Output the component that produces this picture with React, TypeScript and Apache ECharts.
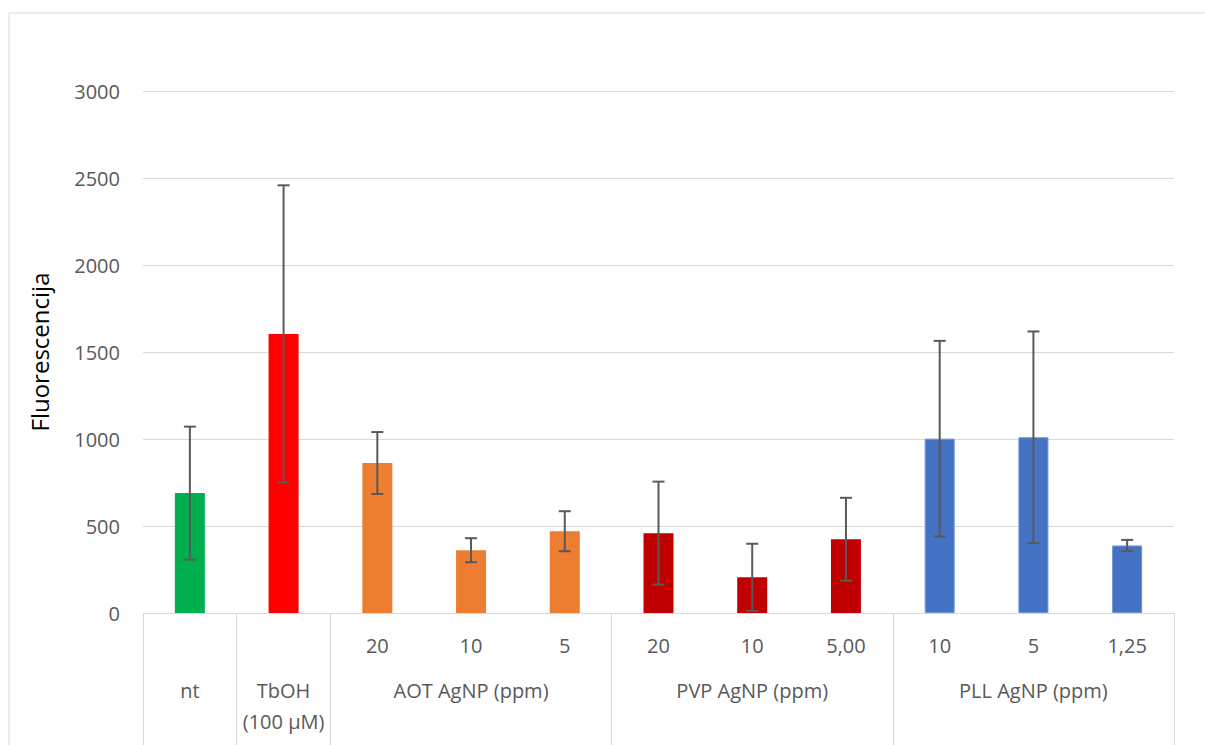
import React, { useEffect, useRef } from "react";
import * as echarts from "echarts";

const tickLabels = ["", "", "20", "10", "5", "20", "10", "5,00", "10", "5", "1,25"];
const groupLabels = ["nt", "TbOH\n(100 µM)", "", "AOT AgNP (ppm)", "", "", "PVP AgNP (ppm)", "", "", "PLL AgNP (ppm)", ""];
const values = [689, 1604, 862, 361, 470, 459, 205, 424, 1002, 1010, 388];
const errors = [382, 854, 178, 69, 115, 296, 193, 238, 562, 608, 32];
const barColors = ["#00B050", "#FF0000", "#ED7D31", "#ED7D31", "#ED7D31", "#C00000", "#C00000", "#C00000", "#4472C4", "#4472C4", "#4472C4"];
const groupBoundaries = [0, 1, 2, 5, 8, 11];
const yTicks = { min: 0, max: 3000, interval: 500 };

const FONT = "Open Sans";

export default function App() {
  const ref = useRef<HTMLDivElement>(null);
  useEffect(() => {
    const chart = echarts.init(ref.current!, null, { renderer: "svg" });
    const cats = tickLabels.map((_, i) => String(i));
    chart.setOption({
      animation: false,
      backgroundColor: "#ffffff",
      graphic: [
        {
          type: "rect",
          shape: { x: 9, y: 13, width: 1400, height: 900 },
          style: { fill: "none", stroke: "#d9d9d9", lineWidth: 1 },
          silent: true,
        },
      ],
      grid: { left: 143, right: 31, top: 91, bottom: 132, containLabel: false },
      xAxis: [
        {
          type: "category",
          data: cats,
          position: "bottom",
          axisLine: { show: true, lineStyle: { color: "#d9d9d9", width: 1 } },
          axisTick: {
            show: true,
            length: 140,
            interval: (i: number) => groupBoundaries.includes(i),
            lineStyle: { color: "#d9d9d9", width: 1 },
          },
          axisLabel: {
            interval: 0,
            margin: 20,
            color: "#595959",
            fontFamily: FONT,
            fontSize: 20,
            lineHeight: 24,
            formatter: (v: string) => tickLabels[Number(v)],
          },
          splitLine: { show: false },
        },
        {
          type: "category",
          data: cats,
          position: "bottom",
          axisLine: { show: false },
          axisTick: { show: false },
          axisLabel: {
            interval: 0,
            margin: 62,
            color: "#595959",
            fontFamily: FONT,
            fontSize: 20,
            lineHeight: 31,
            formatter: (v: string) => groupLabels[Number(v)],
          },
        },
      ],
      yAxis: {
        type: "value",
        min: yTicks.min,
        max: yTicks.max,
        interval: yTicks.interval,
        name: "Fluorescencija",
        nameLocation: "middle",
        nameGap: 92,
        nameTextStyle: { color: "#000000", fontFamily: FONT, fontSize: 24 },
        axisLine: { show: false },
        axisTick: { show: false },
        axisLabel: {
          color: "#595959",
          fontFamily: FONT,
          fontSize: 20,
          margin: 23,
          formatter: (v: number) => String(v),
        },
        splitLine: { lineStyle: { color: "#d9d9d9", width: 1 } },
      },
      series: [
        {
          type: "bar",
          xAxisIndex: 0,
          barWidth: 30,
          data: values.map((v, i) => ({
            value: v,
            itemStyle: {
              color: barColors[i],
              borderColor: barColors[i] === "#4472C4" ? "#6d93d6" : barColors[i],
              borderWidth: barColors[i] === "#4472C4" ? 1 : 0,
            },
          })),
        },
        {
          type: "custom",
          xAxisIndex: 0,
          data: values.map((v, i) => [i, v - errors[i], v + errors[i]]),
          renderItem: (params: any, api: any) => {
            const x = api.value(0);
            const lo = api.coord([x, api.value(1)]);
            const hi = api.coord([x, api.value(2)]);
            const hw = 6;
            const style = { stroke: "#595959", lineWidth: 2 };
            return {
              type: "group",
              children: [
                { type: "line", shape: { x1: hi[0], y1: hi[1], x2: lo[0], y2: lo[1] }, style },
                { type: "line", shape: { x1: hi[0] - hw, y1: hi[1], x2: hi[0] + hw, y2: hi[1] }, style },
                { type: "line", shape: { x1: lo[0] - hw, y1: lo[1], x2: lo[0] + hw, y2: lo[1] }, style },
              ],
            };
          },
          z: 10,
        },
      ],
    });
    return () => chart.dispose();
  }, []);
  return (
    <div
      ref={ref}
      style={{ position: "absolute", left: 0, top: 0, width: 1205, height: 745 }}
    />
  );
}
